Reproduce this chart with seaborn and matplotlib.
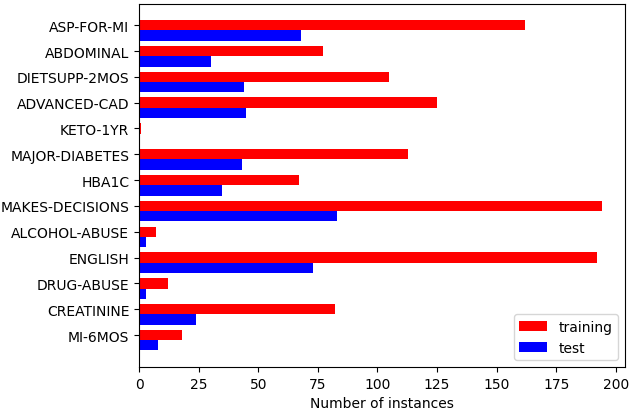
import numpy as np
import pandas as pd
import matplotlib
matplotlib.use("Agg")
import matplotlib.pyplot as plt
import seaborn as sns

categories = ["ASP-FOR-MI", "ABDOMINAL", "DIETSUPP-2MOS", "ADVANCED-CAD", "KETO-1YR",
              "MAJOR-DIABETES", "HBA1C", "MAKES-DECISIONS", "ALCOHOL-ABUSE", "ENGLISH",
              "DRUG-ABUSE", "CREATININE", "MI-6MOS"]
training = [162, 77, 105, 125, 1, 113, 67, 194, 7, 192, 12, 82, 18]
test = [68, 30, 44, 45, 0, 43, 35, 83, 3, 73, 3, 24, 8]

df = pd.DataFrame({
    "criterion": categories * 2,
    "count": training + test,
    "set": ["training"] * len(categories) + ["test"] * len(categories),
})

fig, ax = plt.subplots(figsize=(6.33, 4.10), dpi=100)
sns.barplot(data=df, y="criterion", x="count", hue="set", orient="h",
            palette={"training": "red", "test": "blue"}, saturation=1,
            width=0.8, dodge=True, ax=ax, errorbar=None)

# ticks sit on the training bar, like a plain barh(ind) / barh(ind+w) layout
n = len(categories)
ax.set_yticks(np.arange(n) - 0.2)
ax.set_yticklabels(categories)
ax.set_ylim(n - 1 + 0.4 + 0.64, -0.4 - 0.64)
ax.set_xlim(0, 194 * 1.05)
ax.set_xticks([0, 25, 50, 75, 100, 125, 150, 175, 200])
ax.set_xlabel("Number of instances")
ax.set_ylabel("")
for s in ax.spines.values():
    s.set_visible(True)
    s.set_color("black")
ax.legend(loc="lower right")

plt.subplots_adjust(left=0.2196, right=0.987, top=0.989, bottom=0.1024)
plt.savefig("out.png", dpi=100)
